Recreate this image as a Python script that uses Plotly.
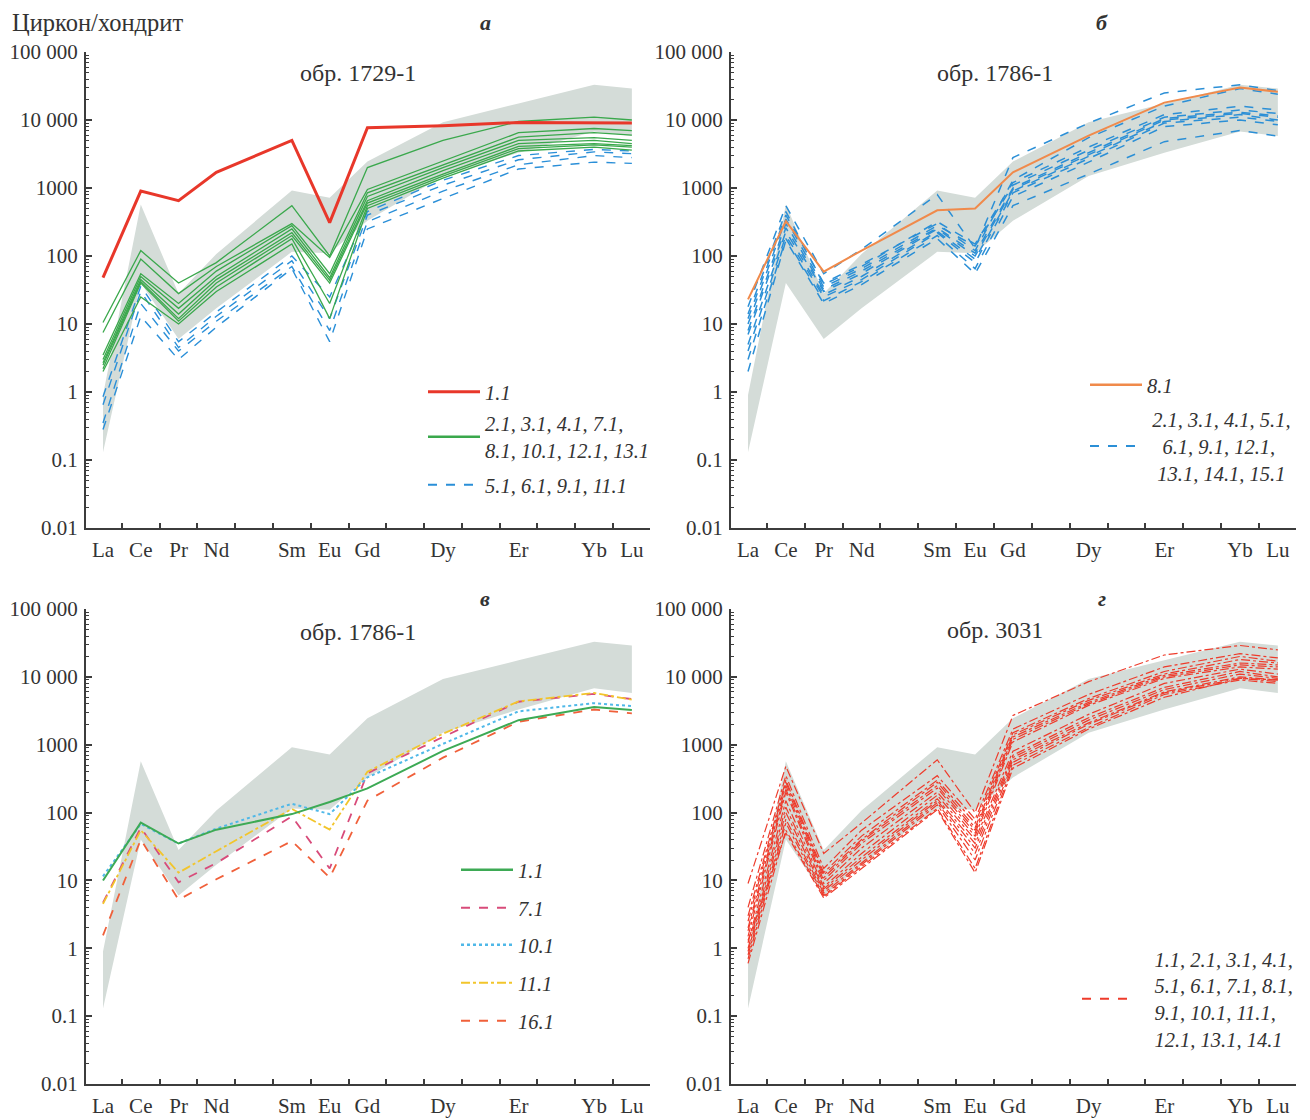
import plotly.graph_objects as go

# ---------------- data ----------------
REE = ["La", "Ce", "Pr", "Nd", "Sm", "Eu", "Gd", "Dy", "Er", "Yb", "Lu"]
REE_POS = [1, 2, 3, 4, 6, 7, 8, 10, 12, 14, 15]
Y_TICKS = [0.01, 0.1, 1, 10, 100, 1000, 10000, 100000]
Y_TICKTEXT = ["0.01", "0.1", "1", "10", "100", "1000", "10 000", "100 000"]

# reference field (grey envelope)
ENV_UPPER = [0.9, 570, 28, 107, 920, 720, 2450, 9300, 17500, 33000, 29000]
ENV_LOWER = [0.13, 40, 6, 17, 115, 110, 330, 1500, 3300, 6800, 5800]

# panel а (обр. 1729-1)
A_RED_11 = [48, 900, 650, 1700, 5000, 310, 7700, 8200, 9200, 9000, 9000]
A_GREEN = [
    [10.5, 120, 40, 80, 550, 100, 2000, 5000, 9500, 11000, 10000],
    [7.5, 90, 28, 70, 300, 95, 950, 2500, 6500, 7500, 7000],
    [3.5, 55, 20, 60, 280, 55, 850, 2200, 5600, 6500, 6000],
    [3.0, 50, 17, 50, 250, 48, 750, 2000, 5000, 5500, 5000],
    [2.7, 45, 14, 45, 220, 44, 650, 1800, 4500, 5000, 4500],
    [2.5, 42, 12, 40, 200, 40, 600, 1600, 4100, 4500, 4200],
    [2.2, 40, 11, 35, 180, 20, 550, 1500, 3800, 4300, 4000],
    [2.0, 25, 10, 30, 150, 12, 500, 1400, 3500, 4000, 3600],
]
A_BLUE = [
    [0.85, 36, 5.5, 15, 100, 25, 450, 1300, 3000, 3700, 3500],
    [0.65, 30, 4.5, 13, 85, 12, 400, 1100, 2600, 3400, 3200],
    [0.35, 20, 4.0, 11, 70, 8, 320, 900, 2200, 3000, 2800],
    [0.28, 13, 3.0, 9, 65, 5.5, 250, 700, 1900, 2400, 2300],
]

# panel б (обр. 1786-1)
B_ORANGE_81 = [23, 325, 59, 120, 470, 500, 1700, 5900, 18000, 30000, 26000]
B_BLUE = [
    [18, 550, 55, 125, 800, 130, 2800, 9000, 25000, 33000, 27000],
    [12, 400, 40, 75, 300, 120, 1300, 5500, 16000, 29000, 24000],
    [14, 450, 38, 70, 320, 150, 1200, 4000, 12000, 16000, 14000],
    [10, 350, 35, 65, 280, 140, 1100, 3600, 11000, 14000, 12500],
    [8, 300, 32, 60, 260, 110, 1000, 3300, 10500, 13000, 11500],
    [7, 260, 30, 55, 250, 100, 950, 3100, 10000, 12500, 11000],
    [5, 230, 27, 50, 230, 90, 900, 2900, 9500, 12000, 10000],
    [4, 200, 25, 45, 220, 80, 850, 2700, 9000, 11000, 9500],
    [3, 180, 22, 42, 200, 65, 750, 2400, 8000, 10000, 8500],
    [2, 170, 20, 38, 180, 55, 550, 1600, 4800, 7000, 5800],
]

# panel в (обр. 1786-1)
V_11 = [10, 71, 35, 56, 95, 143, 227, 810, 2300, 3600, 3250]
V_71 = [4.7, 60, 9.4, 18, 88, 15, 380, 1300, 4300, 5600, 4700]
V_101 = [11.5, 68, 35, 58, 135, 95, 330, 1030, 3100, 4100, 3700]
V_111 = [4.5, 55, 13, 27, 113, 56, 400, 1450, 4350, 5800, 4600]
V_161 = [1.55, 40, 5.2, 10.4, 38, 11, 150, 645, 2180, 3300, 2900]

# panel г (обр. 3031)
G_RED = [
    [9, 480, 25, 70, 600, 100, 2700, 8500, 21000, 29000, 25000],
    [4, 350, 15, 55, 350, 80, 1700, 5500, 14000, 22000, 19000],
    [3, 300, 13, 45, 300, 70, 1500, 4800, 12000, 20000, 17000],
    [2.5, 280, 12, 40, 280, 60, 1400, 4500, 11000, 18000, 16000],
    [2, 250, 11, 38, 250, 55, 1300, 4200, 10500, 16000, 15000],
    [1.8, 220, 10, 35, 230, 50, 1200, 4000, 10000, 15000, 14000],
    [1.5, 200, 9, 30, 200, 45, 1100, 3800, 9500, 14000, 13000],
    [1.2, 150, 8, 25, 180, 40, 800, 2800, 8000, 13000, 11000],
    [1.0, 120, 7.5, 22, 160, 35, 700, 2500, 7000, 12000, 10000],
    [0.9, 100, 7, 20, 150, 30, 650, 2300, 6500, 11000, 9500],
    [0.8, 80, 6.5, 18, 140, 25, 600, 2100, 6000, 10000, 9000],
    [0.7, 70, 6, 17, 130, 20, 550, 2000, 5800, 9500, 8500],
    [0.6, 55, 5.8, 16, 115, 15, 500, 1800, 5500, 9000, 8000],
    [1.3, 50, 5.5, 15, 110, 13, 450, 1700, 5000, 9500, 9000],
]

# ---------------- styling ----------------
FONT = "Liberation Serif, Times New Roman, serif"
TXT = "#333333"
AXC = "#3c3c3c"
ENV_COLOR = "#d4dcd8"
W, H = 1310, 1120

# panel boxes in pixels: (left, right, top, bottom)
PANELS = {
    1: (86, 650, 52, 528),
    2: (731, 1296, 52, 528),
    3: (86, 650, 609, 1084),
    4: (731, 1296, 609, 1084),
}

fig = go.Figure()


def ax(i):
    return ("x" if i == 1 else f"x{i}"), ("y" if i == 1 else f"y{i}")


def add_env(i):
    xa, ya = ax(i)
    fig.add_trace(go.Scatter(
        x=REE_POS + REE_POS[::-1], y=ENV_UPPER + ENV_LOWER[::-1],
        fill="toself", fillcolor=ENV_COLOR, mode="lines",
        line=dict(width=0, color=ENV_COLOR), hoverinfo="skip",
        showlegend=False, xaxis=xa, yaxis=ya))


def add_line(i, vals, color, width, dash="solid"):
    xa, ya = ax(i)
    fig.add_trace(go.Scatter(
        x=REE_POS, y=vals, mode="lines",
        line=dict(color=color, width=width, dash=dash),
        showlegend=False, xaxis=xa, yaxis=ya))


def add_legend_entry(name, legend, color, width, dash="solid"):
    fig.add_trace(go.Scatter(
        x=[None], y=[None], mode="lines", name=name, legend=legend,
        line=dict(color=color, width=width, dash=dash), showlegend=True))


for i in range(1, 5):
    add_env(i)

# panel а
GREEN = "#3aa84c"
BLUE = "#2a8fd8"
for row in A_BLUE:
    add_line(1, row, BLUE, 1.4, "dash")
for row in A_GREEN:
    add_line(1, row, GREEN, 1.3)
add_line(1, A_RED_11, "#e8372a", 3)

# panel б
for row in B_BLUE:
    add_line(2, row, "#2b8fd6", 1.5, "dash")
add_line(2, B_ORANGE_81, "#f08a4b", 2)

# panel в
add_line(3, V_161, "#f0603a", 1.8, "dash")
add_line(3, V_71, "#d84b7a", 1.8, "dash")
add_line(3, V_111, "#f2c52b", 1.8, "dashdot")
add_line(3, V_101, "#4fb8e8", 2, "dot")
add_line(3, V_11, "#3daa55", 2)

# panel г
for row in G_RED:
    add_line(4, row, "#ee3b2b", 1.2, "dashdot")

# legends
nb = "\u00a0"
g_pad = nb * 3
LEG = [
    ("1.1", "#e8372a", 3, "solid", 423, 392),
    ("2.1, 3.1, 4.1, 7.1,<br>8.1, 10.1, 12.1, 13.1", GREEN, 2.5, "solid", 423, 437),
    ("5.1, 6.1, 9.1, 11.1", BLUE, 2, "dash", 423, 485),
    ("8.1", "#f08a4b", 2.5, "solid", 1085, 385),
    (nb + "2.1, 3.1, 4.1, 5.1,<br>" + nb * 3 + "6.1, 9.1, 12.1,<br>" + nb * 2 + "13.1, 14.1, 15.1",
     "#2b8fd6", 2, "dash", 1085, 446),
    ("1.1", "#3daa55", 2.5, "solid", 456, 870),
    ("7.1", "#d84b7a", 2, "dash", 456, 908),
    ("10.1", "#4fb8e8", 2.5, "dot", 456, 945),
    ("11.1", "#f2c52b", 2, "dashdot", 456, 983),
    ("16.1", "#f0603a", 2, "dash", 456, 1021),
    (g_pad + "1.1, 2.1, 3.1, 4.1,<br>" + g_pad + "5.1, 6.1, 7.1, 8.1,<br>"
     + g_pad + "9.1, 10.1, 11.1,<br>" + g_pad + "12.1, 13.1, 14.1",
     "#ee3b2b", 2, "dash", 1077, 999),
]

layout_legends = {}
for k, (name, color, width, dash, lx, ly) in enumerate(LEG):
    key = "legend" if k == 0 else f"legend{k + 1}"
    add_legend_entry(name, key, color, width, dash)
    layout_legends[key] = dict(
        x=lx / W, y=1 - ly / H, xanchor="left", yanchor="middle",
        bgcolor="rgba(0,0,0,0)", borderwidth=0, itemwidth=52,
        font=dict(family=FONT, size=20.5, color=TXT, style="italic"),
        itemclick=False, itemdoubleclick=False)

minor_y = [m * 10 ** e for e in range(-2, 5) for m in range(2, 10)]
tick_between = [p + 0.5 for p in range(1, 15)]

layout_axes = {}
for i, (l, r, t, b) in PANELS.items():
    xk = "xaxis" if i == 1 else f"xaxis{i}"
    yk = "yaxis" if i == 1 else f"yaxis{i}"
    xa, ya = ax(i)
    layout_axes[xk] = dict(
        domain=[l / W, r / W], anchor=ya, range=[0.55, 15.48],
        tickmode="array", tickvals=REE_POS, ticktext=REE, ticks="",
        showline=True, linecolor=AXC, linewidth=2, showgrid=False,
        zeroline=False, tickfont=dict(family=FONT, size=21, color=TXT),
        ticklabelstandoff=2, automargin=False,
        minor=dict(tickmode="array", tickvals=tick_between, ticks="inside",
                   ticklen=5, tickwidth=1.5, tickcolor=AXC, showgrid=False),
        fixedrange=True)
    layout_axes[yk] = dict(
        domain=[1 - b / H, 1 - t / H], anchor=xa, type="log", range=[-2, 5],
        tickmode="array", tickvals=Y_TICKS, ticktext=Y_TICKTEXT,
        ticks="inside", ticklen=6, tickwidth=1.5, tickcolor=AXC,
        showline=True, linecolor=AXC, linewidth=2, showgrid=False,
        zeroline=False, tickfont=dict(family=FONT, size=21, color=TXT),
        ticklabelstandoff=2, automargin=False,
        minor=dict(tickmode="array", tickvals=minor_y, ticks="inside",
                   ticklen=3, tickwidth=1, tickcolor=AXC, showgrid=False),
        fixedrange=True)

annotations = [
    dict(text="Циркон/хондрит", x=10 / W, y=1 - 22 / H, xanchor="left", yanchor="middle",
         font=dict(family=FONT, size=24.5, color=TXT)),
    dict(text="<b><i>а</i></b>", x=485 / W, y=1 - 22 / H, xanchor="center", yanchor="middle",
         font=dict(family=FONT, size=22, color=TXT)),
    dict(text="<b><i>б</i></b>", x=1102 / W, y=1 - 22 / H, xanchor="center", yanchor="middle",
         font=dict(family=FONT, size=22, color=TXT)),
    dict(text="<b><i>в</i></b>", x=485 / W, y=1 - 598 / H, xanchor="center", yanchor="middle",
         font=dict(family=FONT, size=22, color=TXT)),
    dict(text="<b><i>г</i></b>", x=1102 / W, y=1 - 598 / H, xanchor="center", yanchor="middle",
         font=dict(family=FONT, size=22, color=TXT)),
    dict(text="обр. 1729-1", x=358 / W, y=1 - 73 / H, xanchor="center", yanchor="middle",
         font=dict(family=FONT, size=24, color=TXT)),
    dict(text="обр. 1786-1", x=995 / W, y=1 - 73 / H, xanchor="center", yanchor="middle",
         font=dict(family=FONT, size=24, color=TXT)),
    dict(text="обр. 1786-1", x=358 / W, y=1 - 632 / H, xanchor="center", yanchor="middle",
         font=dict(family=FONT, size=24, color=TXT)),
    dict(text="обр. 3031", x=995 / W, y=1 - 630 / H, xanchor="center", yanchor="middle",
         font=dict(family=FONT, size=24, color=TXT)),
]
for a in annotations:
    a.update(xref="paper", yref="paper", showarrow=False)

fig.update_layout(
    width=W, height=H, margin=dict(l=0, r=0, t=0, b=0, autoexpand=False),
    paper_bgcolor="white", plot_bgcolor="white",
    font=dict(family=FONT, color=TXT),
    annotations=annotations, hovermode=False,
    **layout_axes, **layout_legends)

fig.write_html(
    "out.html",
    config={"displayModeBar": False},
    post_script="document.body.style.margin='0px';document.body.style.overflow='hidden';",
)
